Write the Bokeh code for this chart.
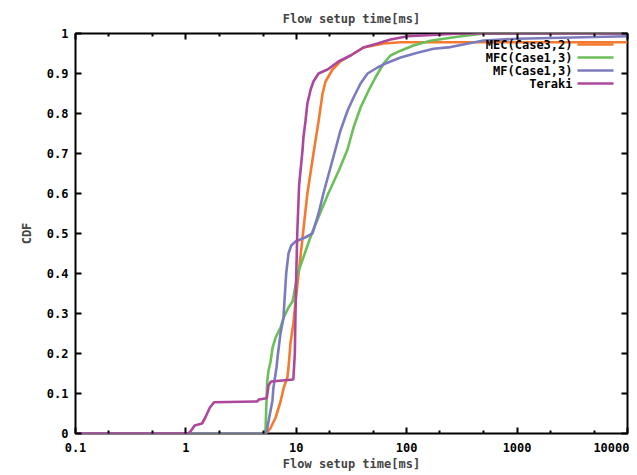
from bokeh.plotting import figure
from bokeh.models import FixedTicker, LinearAxis, LogAxis, Label, BoxAnnotation, Range1d
from bokeh.embed import file_html
from bokeh.resources import INLINE

title_text = "Flow setup time[ms]"
x_label = "Flow setup time[ms]"
y_label = "CDF"

x_ticks = [0.1, 1, 10, 100, 1000, 10000]
x_tick_labels = ["0.1", "1", "10", "100", "1000", "10000"]
x_minor = [0.2, 0.5, 2, 5, 20, 50, 200, 500, 2000, 5000]
y_ticks = [0, 0.1, 0.2, 0.3, 0.4, 0.5, 0.6, 0.7, 0.8, 0.9, 1]
y_tick_labels = ["0", "0.1", "0.2", "0.3", "0.4", "0.5", "0.6", "0.7", "0.8", "0.9", "1"]

series_names = ["MEC(Case3,2)", "MFC(Case1,3)", "MF(Case1,3)", "Teraki"]
series_colors = ["#F47A30", "#6BBF59", "#7B7BBE", "#AD479C"]

mec_x = [0.1, 5.3, 5.8, 6.5, 7.2, 7.7, 8.3, 8.5, 8.85, 9.4, 9.85, 11.5, 12.6, 14.3, 15.9,
         17.3, 18.4, 21.3, 25.0, 31.0, 40.6, 62.0, 88.0, 10000]
mec_y = [0, 0, 0.012, 0.04, 0.08, 0.115, 0.14, 0.165, 0.225, 0.275, 0.33, 0.5, 0.6, 0.7, 0.78,
         0.85, 0.88, 0.91, 0.93, 0.945, 0.965, 0.975, 0.978, 0.978]

mfc_x = [0.1, 5.25, 5.45, 5.6, 5.85, 6.1, 6.5, 7.2, 7.7, 8.5, 9.25, 10.3, 13.8, 19.5, 24.5,
         29.1, 33.0, 38.2, 45.1, 52.1, 61.7, 71.3, 88.0, 115, 164, 289, 500, 10000]
mfc_y = [0, 0, 0.13, 0.157, 0.18, 0.215, 0.24, 0.265, 0.29, 0.315, 0.33, 0.4, 0.5, 0.6, 0.66,
         0.71, 0.765, 0.815, 0.857, 0.89, 0.925, 0.945, 0.957, 0.97, 0.982, 0.992, 1.0, 1.0]

mf_x = [0.1, 5.35, 5.6, 5.84, 6.08, 6.21, 6.62, 6.76, 7.19, 7.66, 7.82, 8.1, 8.5, 9.0, 9.84,
        12.0, 14.0, 15.9, 17.6, 22.6, 25.1, 29.1, 33.0, 38.2, 44.2, 54.4, 67.0, 88.0, 125,
        175, 250, 497, 1009, 10000]
mf_y = [0, 0, 0.03, 0.057, 0.082, 0.115, 0.165, 0.19, 0.25, 0.29, 0.333, 0.4, 0.45, 0.47, 0.48,
        0.49, 0.5, 0.55, 0.6, 0.71, 0.757, 0.807, 0.84, 0.875, 0.9, 0.915, 0.927, 0.94, 0.952,
        0.962, 0.966, 0.9825, 0.987, 0.993]

teraki_x = [0.1, 1.05, 1.1, 1.2, 1.4, 1.5, 1.65, 1.8, 4.4, 4.6, 5.4, 5.6, 5.9, 9.4, 9.7, 9.9,
            10.2, 10.6, 11.4, 11.6, 12.1, 12.6, 13.5, 14.3, 15.9, 19.2, 24.1, 31.0, 40.6, 54.4,
            71.3, 102, 307, 10000]
teraki_y = [0, 0, 0.005, 0.02, 0.025, 0.04, 0.065, 0.078, 0.08, 0.085, 0.088, 0.12, 0.13, 0.135,
            0.2, 0.35, 0.5, 0.62, 0.71, 0.74, 0.78, 0.825, 0.86, 0.88, 0.9, 0.91, 0.93, 0.945,
            0.965, 0.975, 0.985, 0.993, 1.0, 1.0]

series_x = [mec_x, mfc_x, mf_x, teraki_x]
series_y = [mec_y, mfc_y, mf_y, teraki_y]

FONT = "DejaVu Sans Mono"
FS = "12px"

p = figure(width=629, height=475, x_axis_type="log", output_backend="svg",
           toolbar_location=None, x_range=Range1d(0.1, 10000), y_range=Range1d(0, 1),
           min_border_left=75, min_border_right=2, min_border_top=33, min_border_bottom=42)
p.grid.visible = False
p.outline_line_color = "black"
p.outline_line_width = 2
p.background_fill_color = "white"
p.border_fill_color = "white"

p.title.text = title_text
p.title.align = "center"
p.title.text_font = FONT
p.title.text_font_size = FS
p.title.text_font_style = "bold"
p.title.standoff = 16


def style_axis(ax, show_labels=True):
    ax.axis_line_color = None
    ax.major_tick_in = 6
    ax.major_tick_out = 0
    ax.minor_tick_in = 3
    ax.minor_tick_out = 0
    ax.major_tick_line_color = "black"
    ax.major_tick_line_width = 2
    ax.minor_tick_line_color = "black"
    ax.minor_tick_line_width = 2
    ax.major_label_text_font = FONT
    ax.major_label_text_font_style = "bold"
    ax.major_label_text_color = "black"
    ax.axis_label_text_font = FONT
    ax.axis_label_text_font_style = "bold"
    ax.axis_label_text_font_size = FS
    ax.major_label_text_font_size = FS
    if not show_labels:
        ax.major_label_text_alpha = 0
        ax.major_label_text_font_size = "2px"
        ax.major_label_standoff = 0


xax = p.xaxis[0]
xax.ticker = FixedTicker(ticks=x_ticks, minor_ticks=x_minor)
xax.major_label_overrides = dict(zip(x_ticks, x_tick_labels))
xax.axis_label = x_label
style_axis(xax)
xax.major_label_standoff = 9
xax.axis_label_standoff = 2

yax = p.yaxis[0]
yax.ticker = FixedTicker(ticks=y_ticks, minor_ticks=[])
yax.major_label_overrides = dict(zip(y_ticks, y_tick_labels))
yax.axis_label = y_label
style_axis(yax)
yax.major_label_standoff = 7
yax.axis_label_standoff = 10

top = LogAxis(ticker=FixedTicker(ticks=x_ticks, minor_ticks=x_minor))
style_axis(top, show_labels=False)
p.add_layout(top, "above")
right = LinearAxis(ticker=FixedTicker(ticks=y_ticks, minor_ticks=[]))
style_axis(right, show_labels=False)
p.add_layout(right, "right")

for xs, ys, c in zip(series_x, series_y, series_colors):
    p.line(xs, ys, line_color=c, line_width=2.6)

# legend in gnuplot style: label right-aligned, sample line on the right
rows = [389, 376, 363, 350]
for name, c, ry in zip(series_names, series_colors, rows):
    p.add_layout(Label(x=497, y=ry, x_units="screen", y_units="screen", text=name,
                       text_align="right", text_baseline="middle", text_font=FONT,
                       text_font_style="bold", text_font_size=FS, text_color="black"))
    p.add_layout(BoxAnnotation(left=502, right=538, bottom=ry - 1.3, top=ry + 1.3,
                               left_units="screen", right_units="screen",
                               bottom_units="screen", top_units="screen",
                               fill_color=c, fill_alpha=1, line_color=None))

open("out.html", "w").write(file_html(p, INLINE))
